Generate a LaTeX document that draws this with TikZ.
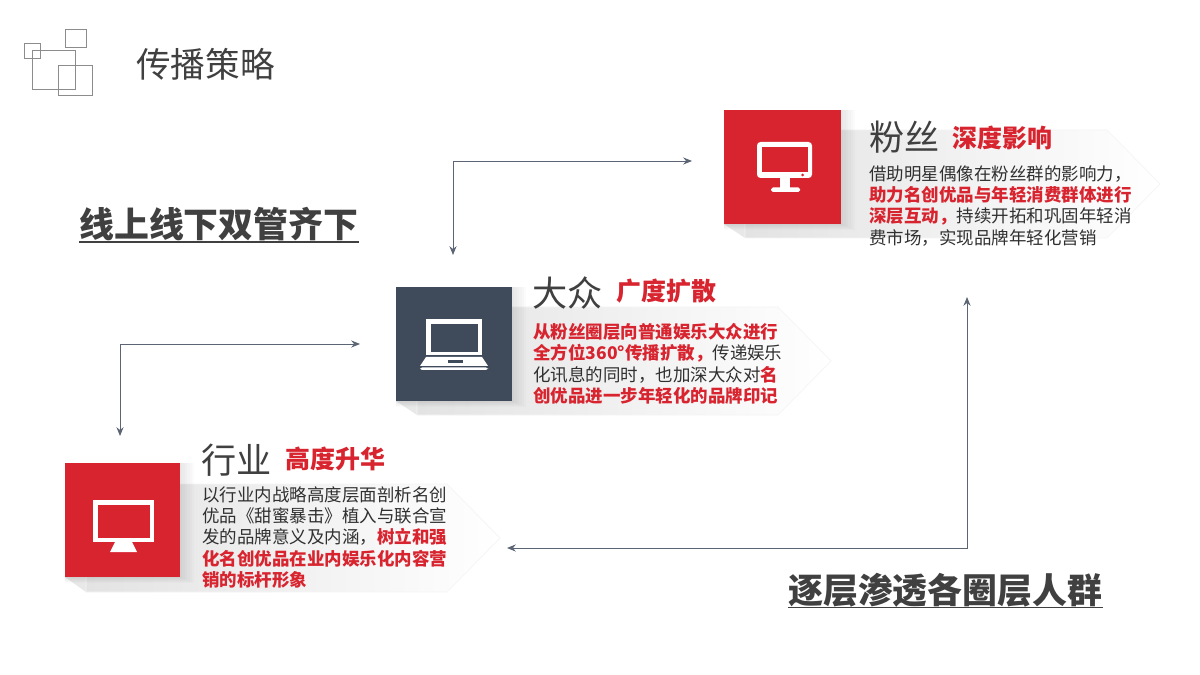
\documentclass[tikz,border=0pt]{standalone}
\usepackage{fontspec}
\setmainfont{Noto Sans CJK SC}
\usetikzlibrary{arrows.meta}

\definecolor{brandred}{HTML}{D8242F}
\definecolor{slatedark}{HTML}{3F4A5A}
\definecolor{textgray}{HTML}{404040}
\definecolor{bodygray}{HTML}{303030}
\definecolor{logogray}{HTML}{8C8C8C}

\newcommand{\hl}[1]{\textcolor{brandred}{\bfseries #1}}

\tikzset{
  panel/.style={draw=black!4, left color=black!11, right color=white},
  foldpart/.style={fill=black!9},
  tile/.style={minimum width=116*0.02cm, minimum height=114*0.02cm, inner sep=0pt, anchor=north west},
  logobox/.style={draw=logogray, line width=0.45pt},
  flow/.style={draw=slatedark!85, line width=0.5pt, {Stealth[length=5pt,width=4pt]}-{Stealth[length=5pt,width=4pt]}},
  headtext/.style={anchor=base west, inner sep=0pt, text=textgray, font=\fontsize{20}{24}\selectfont},
  tagtext/.style={anchor=base west, inner sep=0pt, text=brandred, font=\fontsize{14.2}{17}\selectfont\bfseries},
  bodytext/.style={anchor=north west, inner sep=0pt, align=left, text=bodygray, font=\fontsize{9.95}{12.2}\selectfont},
  slogantext/.style={anchor=base west, inner sep=0pt, text=textgray, font=\fontsize{19.85}{24}\selectfont\bfseries},
  sloganrule/.style={draw=textgray, line width=1.1pt},
}

\begin{document}
\begin{tikzpicture}[x=0.02cm,y=-0.02cm]
\useasboundingbox (0,0) rectangle (1200,675);
\fill[white] (0,0) rectangle (1200,675);

% logo
\draw[logobox] (65,29) rectangle (86,47);
\draw[logobox] (24,43) rectangle (40,58);
\draw[logobox] (32,50) rectangle (75,89);
\draw[logobox] (58,65) rectangle (92,95);
\node[headtext, font=\fontsize{19.7}{24}\selectfont] (title) at (136,78) {传播策略};

% panels
\fill[foldpart] (724,224) -- (745,238) -- (745,224) -- cycle;
\path[panel] (745,130) -- (1107,130) -- (1160,184) -- (1107,238) -- (745,238) -- cycle;
\fill[foldpart] (396,401) -- (417,415) -- (417,401) -- cycle;
\path[panel] (417,307) -- (778,307) -- (831,361) -- (778,415) -- (417,415) -- cycle;
\fill[foldpart] (65,577) -- (86,592) -- (86,577) -- cycle;
\path[panel] (86,484) -- (447,484) -- (500,538) -- (447,592) -- (86,592) -- cycle;

% soft shadows of the tiles
\foreach \g in {1,2,...,6}{
  \fill[black,opacity=0.016] (724,110) rectangle (841+2.4*\g,224+\g);
  \fill[black,opacity=0.016] (396,287) rectangle (512+2.4*\g,401+\g);
  \fill[black,opacity=0.016] (65,463) rectangle (180+2.4*\g,577+\g);
}

% tiles
\node[tile, fill=brandred, minimum width=117*0.02cm] (fanTile) at (724,110) {};
\node[tile, fill=slatedark] (massTile) at (396,287) {};
\node[tile, fill=brandred, minimum width=115*0.02cm] (tradeTile) at (65,463) {};

% monitor, fans
\fill[white, rounded corners=2pt] (757,142) rectangle (812,178);
\fill[brandred] (762,147) rectangle (808,172.5);
\fill[brandred] (802.5,175) circle (1.5);
\fill[white] (780,178) rectangle (790,188);
\fill[white, rounded corners=1pt] (771,187.5) rectangle (800,192);

% laptop, mass
\fill[white] (426,319) rectangle (482,355);
\fill[slatedark] (431,324) rectangle (478,352);
\fill[white] (426,357) -- (482,357) -- (488,366) -- (420,366) -- cycle;
\fill[slatedark] (448,360) rectangle (463,363);
\fill[white, rounded corners=1pt] (420,367.5) rectangle (488,370);

% monitor, trade
\fill[white] (93,500) rectangle (154,542);
\fill[brandred] (97.5,504.5) rectangle (150,537.5);
\fill[white] (115,542) -- (132,542) -- (137,552) -- (110,552) -- cycle;

% fans
\node[headtext] (fanName) at (869,151) {粉丝};
\node[tagtext] (fanTag) at (952,148) {深度影响};
\node[bodytext] (fanBody) at (869,165) {借助明星偶像在粉丝群的影响力，\\
\hl{助力名创优品与年轻消费群体进行}\\
\hl{深层互动，}持续开拓和巩固年轻消\\
费市场，实现品牌年轻化营销};

% mass
\node[headtext] (massName) at (532,307) {大众};
\node[tagtext] (massTag) at (616,301) {广度扩散};
\node[bodytext] (massBody) at (533,323) {\hl{从粉丝圈层向普通娱乐大众进行}\\
\hl{全方位360°传播扩散，}传递娱乐\\
化讯息的同时，也加深大众对\hl{名}\\
\hl{创优品进一步年轻化的品牌印记}};

% trade
\node[headtext] (tradeName) at (201,473) {行业};
\node[tagtext] (tradeTag) at (285,468) {高度升华};
\node[bodytext] (tradeBody) at (202,486) {以行业内战略高度层面剖析名创\\
优品《甜蜜暴击》植入与联合宣\\
发的品牌意义及内涵，\hl{树立和强}\\
\hl{化名创优品在业内娱乐化内容营}\\
\hl{销的标杆形象}};

% slogans
\node[slogantext] (sloganOne) at (79,237.5) {线上线下双管齐下};
\node[slogantext] (sloganTwo) at (788,603.5) {逐层渗透各圈层人群};
\draw[sloganrule] ([yshift=-4.5*0.02cm]sloganOne.base west) -- ([yshift=-4.5*0.02cm]sloganOne.base east);
\draw[sloganrule] ([yshift=-4*0.02cm]sloganTwo.base west) -- ([yshift=-4*0.02cm]sloganTwo.base east);

% connectors
\coordinate (fanIn) at (692,161);
\coordinate (massOut) at (453,255);
\coordinate (massIn) at (360,344);
\coordinate (tradeOut) at (120,436);
\coordinate (fanOut) at (967,297);
\coordinate (tradeIn) at (507,548);
\draw[flow] (fanIn) -| (massOut);
\draw[flow] (massIn) -| (tradeOut);
\draw[flow] (fanOut) |- (tradeIn);
\end{tikzpicture}
\end{document}
